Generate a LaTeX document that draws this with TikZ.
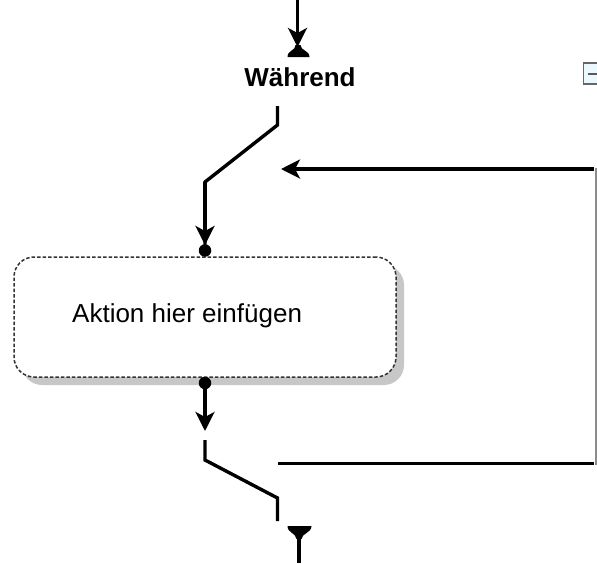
\documentclass[tikz,border=0pt]{standalone}
\usepackage{fontspec}
\setmainfont{Liberation Sans}
\usetikzlibrary{arrows.meta,shadows}
\begin{document}
\begin{tikzpicture}[x=1pt,y=-1pt,
  wire/.style={line width=3.4pt},
  arr/.style={wire,-{Stealth[length=19pt,width=19pt,inset=5pt]}},
  dotnode/.style={circle,fill=black,inner sep=0pt,minimum size=12.5pt},
  thin gray/.style={line width=1.3pt,draw=black!45},
]
\useasboundingbox (0,0) rectangle (597,563);
% coordinates
\coordinate (t0) at (297.5,0);
\coordinate (t1) at (297.5,47);
\coordinate (s1) at (277.5,106);
\coordinate (s2) at (277.5,125);
\coordinate (s3) at (205,182);
\coordinate (s4) at (205,245);
\coordinate (b1) at (205,431);
\coordinate (s5) at (205,440);
\coordinate (s6) at (205,460);
\coordinate (s7) at (277.5,498);
\coordinate (s8) at (277.5,521);
\coordinate (e0) at (299,537);
\coordinate (e1) at (299,563);
\coordinate (r0) at (594,169);
\coordinate (r1) at (281,169);
\coordinate (h0) at (278,463.5);
\coordinate (h1) at (594,463.5);
\coordinate (v0) at (596,168);
\coordinate (v1) at (596,465);

% action box
\node[draw=black!80, dash pattern=on 3.5pt off 2pt, line width=1.5pt,
      rounded corners=20pt, fill=white, minimum width=382pt, minimum height=120pt,
      inner sep=0pt,
      drop shadow={shadow xshift=8pt, shadow yshift=-8pt, fill=black!22, opacity=1}]
      (act) at (205,317) {};
\node[anchor=base west, font=\fontsize{26}{30}\selectfont, inner sep=0pt] (lbl) at (72,322) {Aktion hier einfügen};

% title
\node[anchor=base, font=\bfseries\fontsize{26}{30}\selectfont, inner sep=0pt] (wh) at (300,86) {Während};

% top entry arrow and dome
\draw[arr] (t0) -- (t1);
\fill (295.5,45) .. controls (295.5,51) and (287.5,50) .. (287.5,57) -- (309.5,57) .. controls (309.5,50) and (300.5,51) .. (300.5,45) -- cycle;

% upper switch
\draw[wire,line join=miter] (s1) -- (s2) -- (s3) -- (s4);
\draw[arr] (s3) -- (s4);
\node[dotnode] (d1) at (205,250.5) {};

% loop back arrow
\draw[arr] (r0) -- (r1);
\draw[thin gray] (v0) -- (v1);

% lower part
\node[dotnode] (d2) at (205,383) {};
\draw[arr] (d2.center) -- (b1);
\draw[wire,line join=miter] (s5) -- (s6) -- (s7) -- (s8);
\draw[wire] (h0) -- (h1);

% bottom exit
\fill (287.5,526) -- (311.5,526) .. controls (311.5,533) and (302,533) .. (301.5,539) -- (296.5,539) .. controls (296,533) and (287.5,533) .. (287.5,526) -- cycle;
\draw[wire] (e0) -- (e1);

% collapse icon
\draw[line width=1.5pt, draw=black!60, fill=cyan!8] (583.5,63) rectangle (605,84);
\draw[line width=2pt, draw=black!65] (587.5,73.5) -- (605,73.5);
\end{tikzpicture}
\end{document}
